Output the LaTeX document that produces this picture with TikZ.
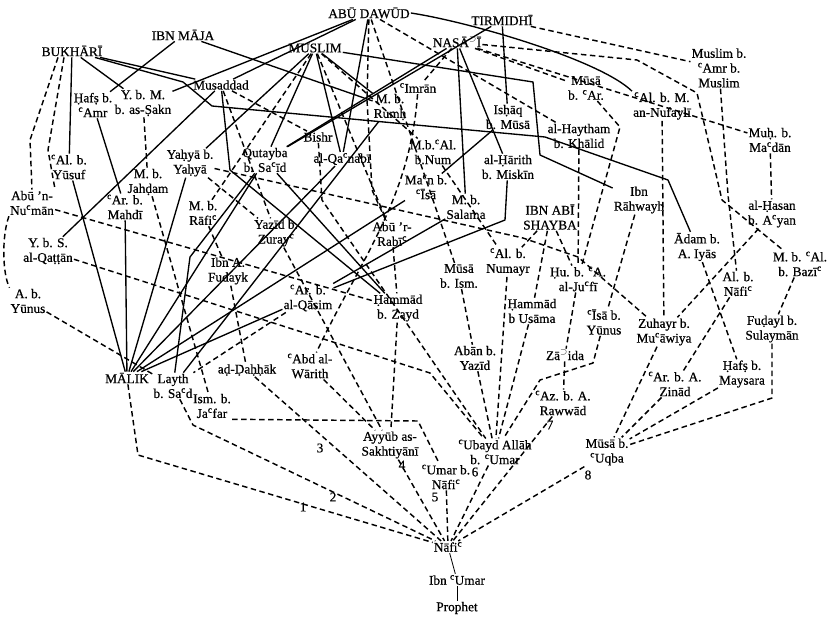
\documentclass[tikz,border=0pt]{standalone}
\usepackage{fontspec}
\setmainfont{Liberation Serif}[FakeBold=0.6]
\newcommand{\ay}{\textsuperscript{c}}
\newcommand{\hmz}{\textsuperscript{\ensuremath{\supset}}}
\tikzset{
 lbl/.style={font=\fontsize{13.3}{14.8}\selectfont, align=center, inner sep=1pt},
 num/.style={font=\fontsize{13.3}{14}\selectfont, inner sep=0pt},
 sl/.style={line width=1.35pt, line join=round},
 ds/.style={line width=1.45pt, dash pattern=on 5.5pt off 3.5pt, line join=round},
 tl/.style={line width=0.8pt}
}
\begin{document}
\begin{tikzpicture}[x=1pt,y=-1pt]
\useasboundingbox (0,0) rectangle (832,621);
% collectors
\node[lbl] (abud) at (369,13) {ABŪ DAWŪD};
\node[lbl] (tirm) at (502,20) {TIRMIDHĪ};
\node[lbl] (muslim) at (315,48) {MUSLIM};
\node[lbl] (nasai) at (457,42) {NASĀ\hmz Ī};
\node[lbl] (ibnmaja) at (183,35) {IBN MĀJA};
\node[lbl] (bukh) at (72,51) {BUKHĀRĪ};
\node[lbl] (ias) at (550,217) {IBN ABĪ\\SHAYBA};
% transmitters
\node[lbl] (hafs) at (93,105) {Ḥafṣ b.\\\ay Amr};
\node[lbl] (ybm) at (143,103) {Y. b. M.\\b. as-Ṣakn};
\node[lbl] (musad) at (221,85) {Musaddad};
\node[lbl] (imran) at (418,88) {\ay Imrān};
\node[lbl] (rumh) at (390,107) {M. b.\\Rumḥ};
\node[lbl] (bishr) at (318,137) {Bishr};
\node[lbl] (qanabi) at (342,159) {al-Qa\ay nabī};
\node[lbl] (numb) at (433,152) {M.b.\ay Al.\\b.Num};
\node[lbl] (maan) at (426,187) {Ma\ay n b.\\\ay Īsā};
\node[lbl] (salama) at (466,207) {M. b.\\Salama};
\node[lbl] (ishaq) at (508,117) {Isḥāq\\b. Mūsā};
\node[lbl] (harith) at (508,167) {al-Ḥārith\\b. Miskīn};
\node[lbl] (mslmamr) at (719,68) {Muslim b.\\\ay Amr b.\\Muslim};
\node[lbl] (musaar) at (586,88) {Mūsā\\b. \ay Ar.};
\node[lbl] (nufayli) at (662,106) {\ay Al. b. M.\\an-Nufaylī};
\node[lbl] (haytham) at (579,136) {al-Haytham\\b. Khālid};
\node[lbl] (madan) at (770,140) {Muḥ. b.\\Ma\ay dān};
\node[lbl] (rahwayh) at (639,200) {Ibn\\Rāhwayh};
\node[lbl] (ayan) at (772,214) {al-Ḥasan\\b. A\ay yan};
\node[lbl] (adam) at (697,247) {Ādam b.\\A. Iyās};
\node[lbl] (bazi) at (800,264) {M. b. \ay Al.\\b. Bazī\ay};
\node[lbl] (jufi) at (578,279) {Ḥu. b. \ay A.\\al-Ju\ay fī};
\node[lbl] (alnafi) at (738,284) {Al. b.\\Nāfi\ay};
\node[lbl] (isa) at (604,322) {\ay Īsā b.\\Yūnus};
\node[lbl] (zuhayr) at (664,332) {Zuhayr b.\\Mu\ay āwiya};
\node[lbl] (fudayl) at (772,329) {Fuḍayl b.\\Sulaymān};
\node[lbl] (zaida) at (565,355) {Zā\hmz ida};
\node[lbl] (hafsm) at (742,374) {Ḥafṣ b.\\Maysara};
\node[lbl] (zinad) at (675,384) {\ay Ar. b. A.\\Zinād};
\node[lbl] (rawwad) at (563,403) {\ay Az. b. A.\\Rawwād};
\node[lbl] (usama) at (532,311) {Ḥammād\\b Usāma};
\node[lbl] (yusuf) at (69,167) {\ay Al. b.\\Yūsuf};
\node[lbl] (jahdam) at (148,182) {M. b.\\Jahḍam};
\node[lbl] (yahya) at (190,163) {Yaḥyā b.\\Yaḥyā};
\node[lbl] (qutayba) at (265,160) {Qutayba\\b. Sa\ay īd};
\node[lbl] (numan) at (32,203) {Abū 'n-\\Nu\ay mān};
\node[lbl] (mahdi) at (125,207) {\ay Ar. b.\\Mahdī};
\node[lbl] (rafi) at (203,213) {M. b.\\Rāfi\ay};
\node[lbl] (qattan) at (48,251) {Y. b. S.\\al-Qaṭṭān};
\node[lbl] (ayunus) at (28,301) {A. b.\\Yūnus};
\node[lbl] (malik) at (127,378) {MĀLIK};
\node[lbl] (layth) at (173,386) {Layth\\b. Sa\ay d};
\node[lbl] (ismj) at (212,406) {Ism. b.\\Ja\ay far};
\node[lbl] (fudayk) at (228,271) {Ibn A.\\Fudayk};
\node[lbl] (dahhak) at (247,370) {aḍ-Ḍaḥḥāk};
\node[lbl] (zuray) at (276,233) {Yazīd b.\\Zuray\ay};
\node[lbl] (rabi) at (392,234) {Abū 'r-\\Rabī\ay};
\node[lbl] (qasim) at (308,298) {\ay Ar. b.\\al-Qāsim};
\node[lbl] (hzayd) at (398,308) {Ḥammād\\b. Zayd};
\node[lbl] (musaism) at (459,276) {Mūsā\\b. Ism.};
\node[lbl] (numayr) at (508,262) {\ay Al. b.\\Numayr};
\node[lbl] (warith) at (310,366) {\ay Abd al-\\Wārith};
\node[lbl] (aban) at (475,358) {Abān b.\\Yazīd};
\node[lbl] (ayyub) at (390,445) {Ayyūb as-\\Sakhtiyānī};
\node[lbl] (ubayd) at (495,452) {\ay Ubayd Allāh\\b. \ay Umar};
\node[lbl] (umar) at (446,477) {\ay Umar b.\\Nāfi\ay};
\node[lbl] (uqba) at (607,452) {Mūsā b.\\\ay Uqba};
\node[lbl] (nafi) at (448,547) {Nāfi\ay};
\node[lbl] (ibnumar) at (457,580) {Ibn \ay Umar};
\node[lbl] (prophet) at (457,608) {Prophet};
% numbers
\node[num] (n1) at (303,507) {1};
\node[num] (n2) at (333,497) {2};
\node[num] (n3) at (320,448) {3};
\node[num] (n4) at (402,465) {4};
\node[num] (n5) at (435,497) {5};
\node[num] (n6) at (475,472) {6};
\node[num] (n7) at (550,425) {7};
\node[num] (n8) at (588,475) {8};
\coordinate (p1) at (183,82);
\coordinate (p2) at (212,106);
\coordinate (p3) at (545,137);
\coordinate (p4) at (668,180);
% ---------- solid connectors
\draw[sl] (bukh) -- (yusuf);
\draw[sl] (bukh) -- (ybm);
\draw[sl] (bukh) -- (musad);
\draw[sl] (bukh) -- (p1) -- (p2) -- (p3) -- (p4) -- (adam);
\draw[sl] (ibnmaja) -- (hafs);
\draw[sl] (ibnmaja) -- (rumh);
\draw[sl] (hafs) -- (mahdi);
\draw[sl] (musad) -- (qattan);
\draw[sl] (musad) -- (230,170) -- (hzayd);
\draw[sl] (yusuf) -- (malik);
\draw[sl] (mahdi) -- (malik);
\draw[sl] (yahya) -- (malik);
\draw[sl] (qutayba) -- (malik);
\draw[sl] (qutayba) -- (190,257) -- (layth);
\draw[sl] (qutayba) -- (hzayd);
\draw[sl] (qanabi) -- (malik);
\draw[sl] (maan) -- (malik);
\draw[sl] (qasim) -- (malik);
\draw[sl] (salama) -- (qasim);
\draw[sl] (harith) -- (505,220) -- (qasim);
\draw[sl] (rumh) -- (layth);
\draw[sl] (muslim) -- (yahya);
\draw[sl] (muslim) -- (qutayba);
\draw[sl] (muslim) -- (rumh);
\draw[sl] (muslim) -- (qanabi);
\draw[sl] (muslim) -- (533,82) -- (540,155) -- (rahwayh);
\draw[sl] (abud) -- (qanabi);
\draw[sl] (abud) -- (musad);
\draw[sl] (abud) -- (ybm);
\draw[sl] (abud.east) .. controls (470,22) and (600,60) .. (nufayli.north west);
\draw[sl] (tirm) -- (ishaq);
\draw[sl] (tirm) -- (qutayba);
\draw[sl] (nasai) -- (qutayba);
\draw[sl] (nasai) -- (salama);
\draw[sl] (nasai) -- (harith);
\draw[sl] (ishaq) -- (maan);
% ---------- dashed connectors
\draw[ds] ([xshift=-14pt]bukh.south) -- (30,140) -- (numan.north);
\draw[ds] ([xshift=-8pt]bukh.south) -- (48,150) -- (numan.north east);
\draw[ds] (numan.south west) .. controls (2,235) and (2,272) .. (ayunus.north west);
\draw[ds] (numan) -- (hzayd);
\draw[ds] (qattan) -- (430,373) -- (ubayd);
\draw[ds] (ayunus) -- (layth);
\draw[ds] (ybm) -- (jahdam);
\draw[ds] (jahdam) -- (ismj);
\draw[ds] (ismj.south east) -- (418,421) -- (umar);
\draw[ds] (rafi) -- (fudayk);
\draw[ds] (fudayk) -- (dahhak);
\draw[ds] (malik) -- (138,455) -- (nafi);
\draw[ds] (layth) -- (193,425) -- (nafi);
\draw[ds] (dahhak) -- (nafi);
\draw[ds] (ayyub) -- (nafi);
\draw[ds] (umar) -- (nafi);
\draw[ds] (ubayd) -- (nafi);
\draw[ds] (rawwad) -- (nafi);
\draw[ds] (uqba.south west) -- (nafi);
\draw[ds] (warith) -- (ayyub);
\draw[ds] (hzayd) -- (ayyub);
\draw[ds] (imran) .. controls (410,200) and (360,260) .. (warith);
\draw[ds] (zuray) -- (ayyub);
\draw[ds] (yahya) -- (zuray);
\draw[ds] (yahya) -- (523,238) -- (578,257) -- (zuhayr);
\draw[ds] (musad) -- (bishr);
\draw[ds] (musad) -- (zuray);
\draw[ds] (bishr) -- (322,200) -- (ubayd);
\draw[ds] (muslim) -- (rafi);
\draw[ds] (muslim) -- (rabi);
\draw[ds] (muslim) -- (numb);
\draw[ds] (abud) -- (musaism);
\draw[ds] (abud) -- (haytham);
\draw[ds] (abud) -- (367,100) -- (372,190) -- (rabi);
\draw[ds] (rabi) -- (hzayd);
\draw[ds] (nasai) -- (imran);
\draw[ds] (nasai) -- (musaar);
\draw[ds] (nasai) -- (637,60) -- (697,93) -- (722,200) -- (bazi);
\draw[ds] (nasai) -- (madan);
\draw[ds] (tirm) -- (mslmamr);
\draw[ds] (mslmamr) -- (728,195) -- (alnafi);
\draw[ds] (numb) -- (numayr);
\draw[ds] (ias) -- (numayr);
\draw[ds] (ias) -- (usama);
\draw[ds] (ias) -- (jufi);
\draw[ds] (numayr) -- (ubayd);
\draw[ds] (usama) -- (ubayd);
\draw[ds] (musaism) -- (aban);
\draw[ds] (aban) -- (ubayd);
\draw[ds] (isa) -- (593,363) -- (540,380) -- (ubayd);
\draw[ds] (rahwayh) -- (isa);
\draw[ds] (musaar) -- (620,127) -- (jufi);
\draw[ds] (haytham) -- (jufi);
\draw[ds] (jufi) -- (zaida);
\draw[ds] (zaida) -- (rawwad);
\draw[ds] (nufayli) -- (zuhayr);
\draw[ds] (madan) -- (ayan);
\draw[ds] (ayan) -- (zuhayr);
\draw[ds] (bazi) -- (fudayl);
\draw[ds] (adam) -- (hafsm);
\draw[ds] (alnafi) -- (zinad);
\draw[ds] (zuhayr) -- (uqba);
\draw[ds] (zinad) -- (uqba);
\draw[ds] (hafsm) -- (uqba);
\draw[ds] (fudayl) -- (772,398) -- (uqba);
\draw[ds] (qasim) -- (layth);
% chain to the Prophet
\draw[tl] (nafi) -- (ibnumar);
\draw[tl] (ibnumar) -- (prophet);
\end{tikzpicture}
\end{document}
